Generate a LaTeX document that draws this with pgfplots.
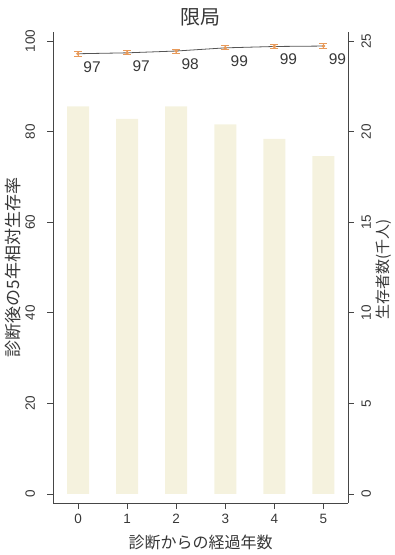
\documentclass[border=0pt]{standalone}
\usepackage{pgfplots}
\pgfplotsset{compat=1.18}
\usepackage{pgfplotstable}
\usepackage{fontspec}
\setmainfont{Liberation Sans}
\newfontfamily\jp{Noto Sans CJK JP}
\definecolor{barcol}{RGB}{245,242,222}
\definecolor{txt}{RGB}{55,55,55}
\definecolor{axcol}{RGB}{70,70,70}
\definecolor{linecol}{RGB}{85,85,85}
\definecolor{orgcol}{RGB}{232,154,90}
\pgfplotstableread{
x y e lab
0 97.2 0.5 97
1 97.4 0.45 97
2 97.8 0.45 98
3 98.5 0.45 99
4 98.8 0.45 99
5 98.9 0.5 99
}\surv
\pgfplotstableread{
x n
0 21.4
1 20.7
2 21.4
3 20.4
4 19.6
5 18.65
}\people
\begin{document}
\begin{tikzpicture}
\path[use as bounding box] (-53.5pt,-52pt) rectangle (341.5pt,503pt);
\pgfplotsset{common/.style={scale only axis, width=294.5pt, height=471pt,
  at={(0pt,0pt)}, anchor=south west, xmin=-0.5, xmax=5.5,
  tick align=outside, major tick length=6pt,
  axis line style={draw=axcol, line width=0.9pt, -},
  tick style={draw=axcol, line width=0.8pt},
  ticklabel style={text=txt, font=\fontsize{13.5}{13.5}\selectfont},
  /pgf/number format/assume math mode=true}}
\begin{axis}[common, ymin=-0.5, ymax=25.5, axis y line*=right, hide x axis,
  ytick={0,5,10,15,20,25},
  yticklabel style={xshift=4pt, rotate=90, anchor=north}]
\addplot[ybar, bar width=22pt, fill=barcol, draw=none] table[x=x, y=n]{\people};
\end{axis}
\begin{axis}[common, ymin=-2, ymax=102, axis y line*=left, axis x line*=bottom,
  xtick={0,1,2,3,4,5}, ytick={0,20,40,60,80,100},
  yticklabel style={xshift=-9pt, rotate=90, anchor=south},
  xticklabel style={yshift=-2pt},
  clip=false]
\addplot[color=linecol, line width=0.8pt, mark=*, mark size=1.4pt,
  mark options={fill=orgcol, draw=orgcol},
  point meta=explicit symbolic,
  nodes near coords,
  every node near coord/.append style={anchor=center, xshift=14pt, yshift=-13pt,
    font=\fontsize{15.5}{15.5}\selectfont, text=txt},
  error bars/.cd, y dir=both, y explicit, error mark=-,
  error bar style={color=orgcol, line width=0.8pt},
  error mark options={color=orgcol, rotate=90, mark size=4pt, line width=0.9pt}]
  table[x=x, y=y, y error=e, meta=lab]{\surv};
\node[text=txt, font=\jp\fontsize{20}{20}\selectfont] at ([yshift=15pt]axis description cs:0.5,1) {限局};
\node[text=txt, font=\jp\fontsize{16}{16}\selectfont] at ([yshift=-39pt]axis description cs:0.5,0) {診断からの経過年数};
\node[text=txt, font=\jp\fontsize{17}{17}\selectfont, rotate=90] at ([xshift=-40.5pt]axis description cs:0,0.5) {診断後の5年相対生存率};
\node[text=txt, font=\jp\fontsize{15}{15}\selectfont, rotate=90] at ([xshift=36pt, yshift=-2pt]axis description cs:1,0.5) {生存者数(千人)};
\end{axis}
\end{tikzpicture}
\end{document}
